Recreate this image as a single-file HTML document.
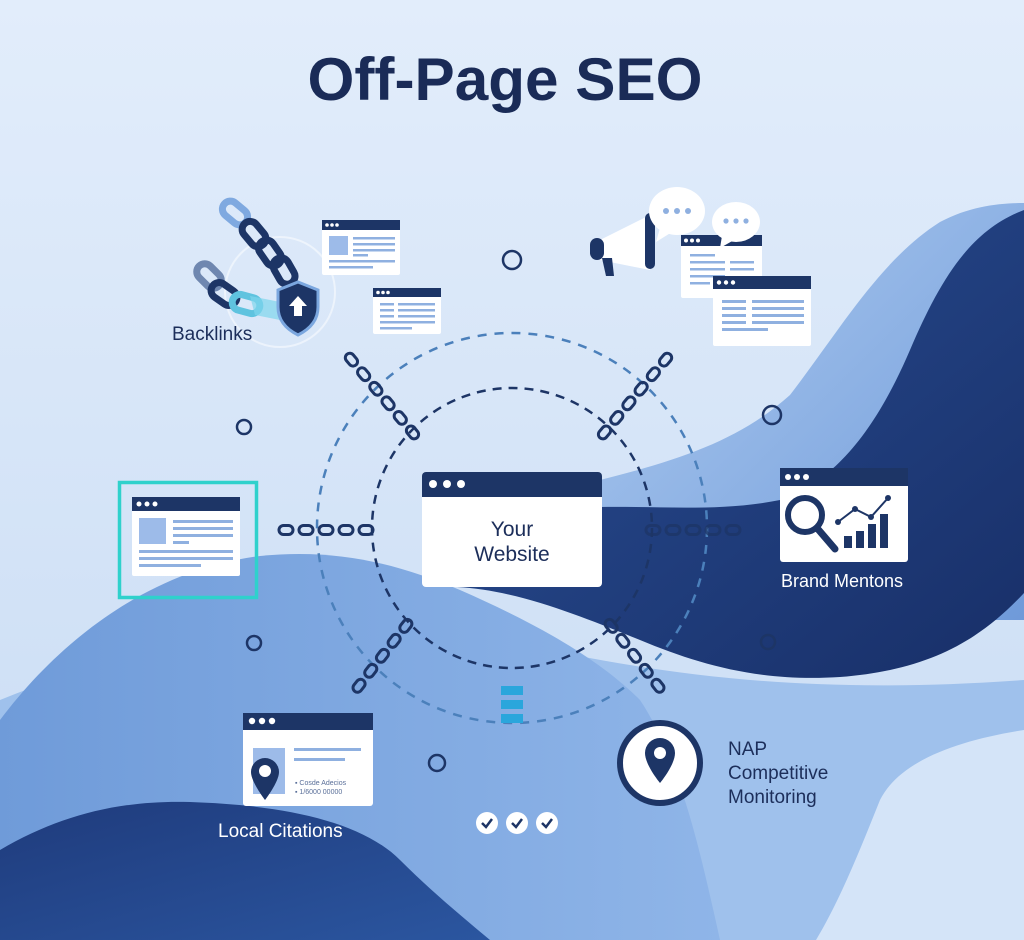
<!DOCTYPE html>
<html><head><meta charset="utf-8"><style>
html,body{margin:0;padding:0;width:1024px;height:940px;overflow:hidden;background:#dde9f9}
svg{display:block}
text{font-family:"Liberation Sans",sans-serif}
</style></head><body>
<svg width="1024" height="940" viewBox="0 0 1024 940" xmlns="http://www.w3.org/2000/svg">
<defs>
<linearGradient id="bg" x1="0" y1="0" x2="0" y2="1"><stop offset="0" stop-color="#e2edfb"/><stop offset="1" stop-color="#c9dcf4"/></linearGradient>
<linearGradient id="dk" x1="0" y1="0" x2="1" y2="1"><stop offset="0" stop-color="#2a4f95"/><stop offset="1" stop-color="#182f68"/></linearGradient>
<linearGradient id="md" x1="0" y1="0" x2="1" y2="1"><stop offset="0" stop-color="#aecbf0"/><stop offset="1" stop-color="#6f9ad9"/></linearGradient>
<linearGradient id="lw" x1="0" y1="0" x2="1" y2="0"><stop offset="0" stop-color="#6f9bd9"/><stop offset="1" stop-color="#8fb5e8"/></linearGradient>
<linearGradient id="bn" x1="0" y1="0" x2="1" y2="1"><stop offset="0" stop-color="#1f3b7c"/><stop offset="1" stop-color="#2b56a0"/></linearGradient>
<g id="ch"><rect x="-7" y="-4.5" width="14" height="9" rx="4.5" fill="none" stroke="#1d3566" stroke-width="3"/></g>
</defs>
<rect width="1024" height="940" fill="url(#bg)"/>
<path d="M0,700 C150,640 300,600 450,630 C600,660 750,700 1024,680 L1024,940 L0,940Z" fill="#9fc1ec"/>
<path d="M600,480 C680,460 740,440 790,395 C840,330 880,260 940,222 C970,206 1000,203 1024,203 L1024,620 L600,620Z" fill="url(#md)"/>
<path d="M0,720 C60,640 150,570 260,556 C340,548 400,565 460,590 C540,625 600,660 640,700 C680,760 700,850 720,940 L0,940Z" fill="url(#lw)"/>
<path d="M457,587 C480,540 540,508 600,507 C660,506 720,512 780,500 C840,480 880,420 910,350 C940,280 970,230 1024,210 L1024,593 C980,640 930,670 840,677 C760,682 700,665 640,640 C590,620 520,590 457,587Z" fill="url(#dk)"/>
<path d="M1024,730 C960,740 900,760 880,800 C860,850 840,900 816,940 L1024,940Z" fill="#d4e4f8"/>
<path d="M0,850 C60,815 120,800 190,802 C280,805 360,820 400,860 C430,890 460,915 490,940 L0,940Z" fill="url(#bn)"/>

<circle cx="512" cy="528" r="195" fill="none" stroke="#4b80bb" stroke-width="2.5" stroke-dasharray="9 8"/>
<circle cx="512" cy="528" r="140" fill="none" stroke="#1d3566" stroke-width="2.5" stroke-dasharray="9 7"/>

<g>
<use href="#ch" transform="translate(286,530)"/><use href="#ch" transform="translate(306,530)"/><use href="#ch" transform="translate(326,530)"/><use href="#ch" transform="translate(346,530)"/><use href="#ch" transform="translate(366,530)"/>
<g opacity="0.75"><use href="#ch" transform="translate(653,530)"/><use href="#ch" transform="translate(673,530)"/><use href="#ch" transform="translate(693,530)"/><use href="#ch" transform="translate(713,530)"/><use href="#ch" transform="translate(733,530)"/></g>
<g transform="translate(345,352) rotate(50)"><use href="#ch" transform="translate(10,0)"/><use href="#ch" transform="translate(29,0)"/><use href="#ch" transform="translate(48,0)"/><use href="#ch" transform="translate(67,0)"/><use href="#ch" transform="translate(86,0)"/><use href="#ch" transform="translate(105,0)"/></g>
<g transform="translate(672,352) rotate(130)"><use href="#ch" transform="translate(10,0)"/><use href="#ch" transform="translate(29,0)"/><use href="#ch" transform="translate(48,0)"/><use href="#ch" transform="translate(67,0)"/><use href="#ch" transform="translate(86,0)"/><use href="#ch" transform="translate(105,0)"/></g>
<g transform="translate(412,618) rotate(128)"><use href="#ch" transform="translate(10,0)"/><use href="#ch" transform="translate(29,0)"/><use href="#ch" transform="translate(48,0)"/><use href="#ch" transform="translate(67,0)"/><use href="#ch" transform="translate(86,0)"/></g>
<g transform="translate(605,618) rotate(52)"><use href="#ch" transform="translate(10,0)"/><use href="#ch" transform="translate(29,0)"/><use href="#ch" transform="translate(48,0)"/><use href="#ch" transform="translate(67,0)"/><use href="#ch" transform="translate(86,0)"/></g>
</g>

<g fill="none" stroke="#1d3566" stroke-width="2.5">
<circle cx="512" cy="260" r="9"/><circle cx="244" cy="427" r="7"/><circle cx="772" cy="415" r="9"/><circle cx="254" cy="643" r="7"/><circle cx="768" cy="642" r="7"/><circle cx="437" cy="763" r="8"/>
</g>

<text x="505" y="100" text-anchor="middle" font-size="60" font-weight="bold" fill="#1a2b57" textLength="395" lengthAdjust="spacingAndGlyphs">Off-Page SEO</text>

<rect x="422" y="472" width="180" height="115" rx="4" fill="#fff"/>
<path d="M426,472 h172 a4,4 0 0 1 4,4 v21 h-180 v-21 a4,4 0 0 1 4,-4z" fill="#1d3566"/>
<circle cx="433" cy="484" r="4" fill="#fff"/><circle cx="447" cy="484" r="4" fill="#fff"/><circle cx="461" cy="484" r="4" fill="#fff"/>
<text x="512" y="536" text-anchor="middle" font-size="21" fill="#1c2e5a">Your</text>
<text x="512" y="561" text-anchor="middle" font-size="21" fill="#1c2e5a">Website</text>

<rect x="119.5" y="482.5" width="137" height="115" fill="none" stroke="#2fd1cc" stroke-width="3.5"/>
<rect x="132" y="497" width="108" height="79" rx="2" fill="#fff"/>
<rect x="132" y="497" width="108" height="14" fill="#1d3566"/>
<circle cx="139" cy="504" r="2.5" fill="#fff"/><circle cx="147" cy="504" r="2.5" fill="#fff"/><circle cx="155" cy="504" r="2.5" fill="#fff"/>
<rect x="139" y="518" width="27" height="26" fill="#9dbbe9"/>
<g fill="#8fb0e0"><rect x="173" y="520" width="60" height="3"/><rect x="173" y="527" width="60" height="3"/><rect x="173" y="534" width="60" height="3"/><rect x="173" y="541" width="16" height="3"/><rect x="139" y="550" width="94" height="3"/><rect x="139" y="557" width="94" height="3"/><rect x="139" y="564" width="62" height="3"/></g>

<rect x="780" y="468" width="128" height="94" rx="3" fill="#fff"/>
<rect x="780" y="468" width="128" height="18" fill="#1d3566"/>
<circle cx="788" cy="477" r="3" fill="#fff"/><circle cx="797" cy="477" r="3" fill="#fff"/><circle cx="806" cy="477" r="3" fill="#fff"/>
<circle cx="805" cy="515" r="17" fill="#fff" stroke="#1d3566" stroke-width="6"/>
<line x1="817" y1="528" x2="835" y2="549" stroke="#1d3566" stroke-width="7" stroke-linecap="round"/>
<g fill="#1d3566"><rect x="844" y="536" width="8" height="12"/><rect x="856" y="531" width="8" height="17"/><rect x="868" y="524" width="8" height="24"/><rect x="880" y="514" width="8" height="34"/></g>
<polyline points="838,522 855,509 871,517 888,498" fill="none" stroke="#1d3566" stroke-width="2"/>
<g fill="#1d3566"><circle cx="838" cy="522" r="3"/><circle cx="855" cy="509" r="3"/><circle cx="871" cy="517" r="3"/><circle cx="888" cy="498" r="3"/></g>
<text x="842" y="587" text-anchor="middle" font-size="18" fill="#fff">Brand Mentons</text>

<rect x="243" y="713" width="130" height="93" rx="3" fill="#fff"/>
<rect x="243" y="713" width="130" height="17" fill="#1d3566"/>
<circle cx="252" cy="721" r="3.2" fill="#fff"/><circle cx="262" cy="721" r="3.2" fill="#fff"/><circle cx="272" cy="721" r="3.2" fill="#fff"/>
<rect x="253" y="748" width="32" height="46" fill="#9dbbe9"/>
<path d="M265,758 a14,14 0 0 1 14,14 c0,10 -14,28 -14,28 c0,0 -14,-18 -14,-28 a14,14 0 0 1 14,-14z" fill="#1d3566"/>
<circle cx="265" cy="771" r="6" fill="#fff"/>
<g fill="#8fb0e0"><rect x="294" y="748" width="67" height="3"/><rect x="294" y="758" width="51" height="3"/></g>
<text x="295" y="785" font-size="7" fill="#5a6f99">▪ Cosde Adecios</text>
<text x="295" y="794" font-size="7" fill="#5a6f99">▪ 1/6000 00000</text>
<text x="218" y="837" font-size="19" fill="#fff">Local Citations</text>

<g fill="#2aa6dc"><rect x="501" y="686" width="22" height="9"/><rect x="501" y="700" width="22" height="9"/><rect x="501" y="714" width="22" height="9"/></g>

<g><circle cx="487" cy="823" r="11" fill="#fff"/><circle cx="517" cy="823" r="11" fill="#fff"/><circle cx="547" cy="823" r="11" fill="#fff"/>
<g fill="none" stroke="#1d3566" stroke-width="2.5"><polyline points="482,823 486,827 492,819"/><polyline points="512,823 516,827 522,819"/><polyline points="542,823 546,827 552,819"/></g></g>

<circle cx="660" cy="763" r="40" fill="#fff" stroke="#1d3566" stroke-width="6"/>
<path d="M660,738 a15,15 0 0 1 15,15 c0,12 -15,30 -15,30 c0,0 -15,-18 -15,-30 a15,15 0 0 1 15,-15z" fill="#1d3566"/>
<circle cx="660" cy="753" r="6" fill="#fff"/>
<text x="728" y="755" font-size="19" fill="#1c2e5a">NAP</text>
<text x="728" y="779" font-size="19" fill="#1c2e5a">Competitive</text>
<text x="728" y="803" font-size="19" fill="#1c2e5a">Monitoring</text>

<circle cx="280" cy="292" r="55" fill="none" stroke="#fff" stroke-width="2" opacity="0.5"/>
<g fill="none" stroke-width="7">
<rect x="221" y="205" width="28" height="16" rx="8" transform="rotate(40 235 213)" stroke="#7fa9e0"/>
<rect x="240" y="226" width="28" height="16" rx="8" transform="rotate(50 254 234)" stroke="#1d3566"/>
<rect x="256" y="245" width="28" height="16" rx="8" transform="rotate(55 270 253)" stroke="#1d3566"/>
<rect x="270" y="263" width="28" height="16" rx="8" transform="rotate(60 284 271)" stroke="#1d3566"/>
<rect x="195" y="268" width="28" height="16" rx="8" transform="rotate(45 209 276)" stroke="#6f87b0"/>
<rect x="210" y="286" width="28" height="16" rx="8" transform="rotate(35 224 294)" stroke="#1d3566"/>
<rect x="232" y="296" width="28" height="16" rx="8" transform="rotate(15 246 304)" stroke="#5fc3df"/>
</g>
<path d="M250,296 L280,302 L280,320 L255,315Z" fill="#7fd6ec" opacity="0.7"/>
<path d="M298,282 L318,290 L318,307 C318,322 308,330 298,335 C288,330 278,322 278,307 L278,290Z" fill="#1d3566" stroke="#7ba7df" stroke-width="3"/>
<path d="M298,296 L307,306 L302,306 L302,316 L294,316 L294,306 L289,306Z" fill="#fff"/>
<rect x="322" y="220" width="78" height="55" rx="2" fill="#fff"/>
<rect x="322" y="220" width="78" height="10" fill="#1d3566"/>
<g fill="#fff"><circle cx="327" cy="225" r="1.8"/><circle cx="332" cy="225" r="1.8"/><circle cx="337" cy="225" r="1.8"/></g>
<rect x="329" y="236" width="19" height="19" fill="#9dbbe9"/>
<g fill="#8fb0e0"><rect x="353" y="237" width="42" height="2.5"/><rect x="353" y="243" width="42" height="2.5"/><rect x="353" y="249" width="42" height="2.5"/><rect x="353" y="254" width="15" height="2.5"/><rect x="329" y="260" width="66" height="2.5"/><rect x="329" y="266" width="44" height="2.5"/></g>
<rect x="373" y="288" width="68" height="46" rx="2" fill="#fff"/>
<rect x="373" y="288" width="68" height="9" fill="#1d3566"/>
<g fill="#fff"><circle cx="378" cy="292.5" r="1.8"/><circle cx="383" cy="292.5" r="1.8"/><circle cx="388" cy="292.5" r="1.8"/></g>
<g fill="#8fb0e0"><rect x="380" y="303" width="14" height="2.5"/><rect x="398" y="303" width="37" height="2.5"/><rect x="380" y="309" width="14" height="2.5"/><rect x="398" y="309" width="37" height="2.5"/><rect x="380" y="315" width="14" height="2.5"/><rect x="398" y="315" width="37" height="2.5"/><rect x="380" y="321" width="55" height="2.5"/><rect x="380" y="327" width="32" height="2.5"/></g>
<text x="172" y="340" font-size="19" fill="#1c2e5a">Backlinks</text>

<path d="M600,240 L650,215 L650,270 L600,260Z" fill="#fff"/>
<rect x="590" y="238" width="14" height="22" rx="7" fill="#1d3566"/>
<path d="M602,258 L612,258 L614,276 L606,276Z" fill="#1d3566"/>
<rect x="645" y="213" width="10" height="56" rx="5" fill="#1d3566"/>
<ellipse cx="677" cy="211" rx="28" ry="24" fill="#fff"/><path d="M660,228 L656,242 L672,232Z" fill="#fff"/>
<g fill="#8fb0e0"><circle cx="666" cy="211" r="3"/><circle cx="677" cy="211" r="3"/><circle cx="688" cy="211" r="3"/></g>
<rect x="681" y="235" width="81" height="63" rx="2" fill="#fff"/>
<rect x="681" y="235" width="81" height="11" fill="#1d3566"/>
<g fill="#fff"><circle cx="686" cy="240.5" r="2"/><circle cx="692" cy="240.5" r="2"/><circle cx="698" cy="240.5" r="2"/></g>
<ellipse cx="736" cy="222" rx="24" ry="20" fill="#fff"/><path d="M722,236 L720,248 L734,240Z" fill="#fff"/>
<g fill="#8fb0e0"><circle cx="726" cy="221" r="2.6"/><circle cx="736" cy="221" r="2.6"/><circle cx="746" cy="221" r="2.6"/></g>
<g fill="#8fb0e0"><rect x="690" y="254" width="25" height="2.5"/><rect x="690" y="261" width="35" height="2.5"/><rect x="730" y="261" width="24" height="2.5"/><rect x="690" y="268" width="35" height="2.5"/><rect x="730" y="268" width="24" height="2.5"/><rect x="690" y="275" width="35" height="2.5"/><rect x="690" y="282" width="20" height="2.5"/></g>
<rect x="713" y="276" width="98" height="70" rx="2" fill="#fff"/>
<rect x="713" y="276" width="98" height="13" fill="#1d3566"/>
<g fill="#fff"><circle cx="719" cy="282.5" r="2.2"/><circle cx="726" cy="282.5" r="2.2"/><circle cx="733" cy="282.5" r="2.2"/></g>
<g fill="#8fb0e0"><rect x="722" y="300" width="24" height="3"/><rect x="752" y="300" width="52" height="3"/><rect x="722" y="307" width="24" height="3"/><rect x="752" y="307" width="52" height="3"/><rect x="722" y="314" width="24" height="3"/><rect x="752" y="314" width="52" height="3"/><rect x="722" y="321" width="24" height="3"/><rect x="752" y="321" width="52" height="3"/><rect x="722" y="328" width="46" height="3"/></g>
</svg>
</body></html>
